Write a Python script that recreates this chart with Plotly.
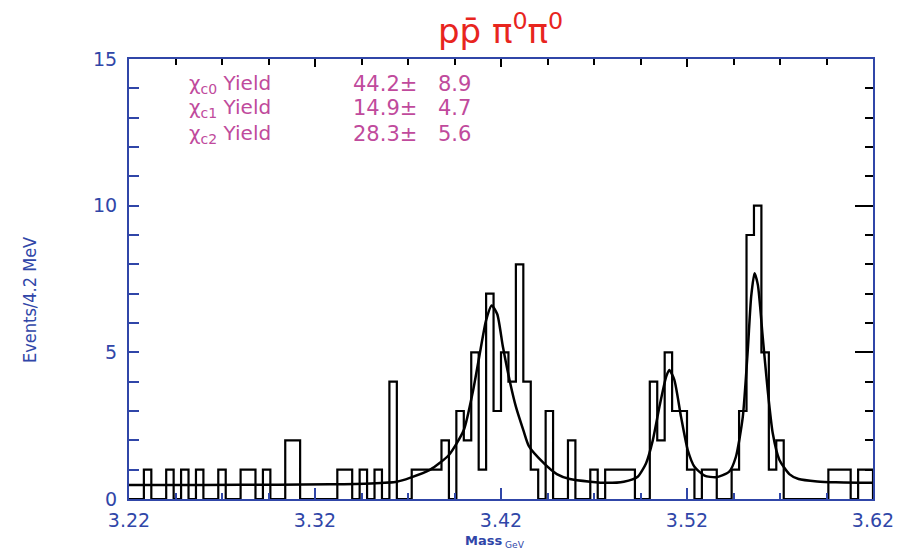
import plotly.graph_objects as go

# ---------------- data ----------------
mass_lo = 3.22
bin_width = 0.004
counts = [
    0, 0, 1, 0, 0, 1, 0, 1, 0, 1,      # 3.220-3.260
    0, 0, 1, 0, 0, 1, 1, 0, 1, 0,      # 3.260-3.300
    0, 2, 2, 0, 0, 0, 0, 0, 1, 1,      # 3.300-3.340
    0, 1, 0, 1, 0, 4, 0, 0, 1, 1,      # 3.340-3.380
    1, 1, 2, 0, 3, 2, 5, 1, 7, 3,      # 3.380-3.420
    5, 4, 8, 4, 1, 0, 3, 0, 0, 2,      # 3.420-3.460
    0, 0, 1, 0, 1, 1, 1, 1, 0, 0,      # 3.460-3.500
    4, 2, 5, 3, 3, 1, 0, 1, 1, 0,      # 3.500-3.540
    0, 1, 3, 9, 10, 5, 1, 2, 0, 0,     # 3.540-3.580
    0, 0, 0, 0, 1, 1, 1, 0, 1, 1,      # 3.580-3.620
]

fit_mass = [3.220, 3.260, 3.300, 3.328, 3.350, 3.364, 3.371, 3.382, 3.392, 3.400,
            3.405, 3.409, 3.412, 3.415, 3.418, 3.421, 3.425, 3.428, 3.432, 3.435,
            3.443, 3.450, 3.457, 3.468, 3.477, 3.486, 3.4935, 3.498, 3.5016, 3.5052,
            3.5088, 3.5105, 3.5132, 3.5168, 3.5204, 3.524, 3.5294, 3.5356, 3.5427, 3.5463,
            3.550, 3.5527, 3.5545, 3.5563, 3.5581, 3.5607, 3.5634, 3.5661, 3.5697, 3.575,
            3.580, 3.590, 3.600, 3.620]
fit_value = [0.48, 0.48, 0.49, 0.50, 0.53, 0.59, 0.72, 1.00, 1.50, 2.35,
             3.70, 5.10, 6.10, 6.60, 6.30, 5.20, 3.94, 3.15, 2.35, 1.80,
             1.22, 0.85, 0.68, 0.59, 0.55, 0.59, 0.76, 1.22, 2.00, 3.15,
             4.17, 4.40, 4.06, 2.80, 1.67, 1.10, 0.80, 0.74, 0.93, 1.44,
             2.80, 5.10, 6.90, 7.70, 7.30, 5.53, 3.70, 2.24, 1.33, 0.85,
             0.68, 0.60, 0.57, 0.55]

yield_names = ["c0", "c1", "c2"]
yield_values = ["44.2", "14.9", "28.3"]
yield_errors = ["8.9", "4.7", "5.6"]

x_ticks = [3.22, 3.32, 3.42, 3.52, 3.62]
y_ticks = [0, 5, 10, 15]

# ---------------- figure ----------------
BLUE = "#3046a8"
RED = "#e8251e"
MAGENTA = "#c04a9c"
FONT = "DejaVu Sans"

edges = [mass_lo + i * bin_width for i in range(len(counts) + 1)]
step_x = [edges[0]] + edges + [edges[-1]]
step_y = [0] + counts + [counts[-1], 0]

fig = go.Figure()
fig.add_trace(go.Scatter(x=step_x, y=step_y, mode="lines", line_shape="hv",
                         line=dict(color="black", width=2.2), hoverinfo="skip",
                         showlegend=False))
fig.add_trace(go.Scatter(x=fit_mass, y=fit_value, mode="lines",
                         line=dict(color="black", width=2.5, shape="spline", smoothing=0.6),
                         showlegend=False))
fig.add_trace(go.Scatter(x=[x_ticks[0]], y=[0], xaxis="x2", yaxis="y2",
                         mode="markers", marker=dict(opacity=0), showlegend=False,
                         hoverinfo="skip"))

x_rng = [x_ticks[0], x_ticks[-1]]
y_rng = [y_ticks[0], y_ticks[-1]]

fig.update_layout(
    width=901, height=549,
    margin=dict(l=129, r=28, t=59, b=50, autoexpand=False),
    paper_bgcolor="white", plot_bgcolor="white",
    font=dict(family=FONT, color=BLUE),
    xaxis=dict(range=x_rng, tickvals=x_ticks, ticktext=[f"{v:.2f}" for v in x_ticks],
               ticks="inside", ticklen=11, tickwidth=2, tickcolor=BLUE,
               minor=dict(dtick=0.025, tick0=3.22, ticks="inside", ticklen=6,
                          tickwidth=2, tickcolor=BLUE),
               showline=True, linecolor=BLUE, linewidth=2, showgrid=False,
               zeroline=False, tickfont=dict(size=19, color=BLUE, family=FONT),
               ticklabelstandoff=3, automargin=False),
    yaxis=dict(range=y_rng, tickvals=y_ticks, ticks="inside", ticklen=10, tickwidth=2,
               tickcolor=BLUE,
               minor=dict(dtick=1, tick0=0, ticks="inside", ticklen=10, tickwidth=2,
                          tickcolor=BLUE),
               showline=True, linecolor=BLUE, linewidth=2, showgrid=False,
               zeroline=False, tickfont=dict(size=19, color=BLUE, family=FONT),
               ticklabelstandoff=6, automargin=False),
    xaxis2=dict(range=x_rng, overlaying="x", side="top", tickvals=x_ticks,
                ticks="inside", ticklen=8, tickwidth=2, tickcolor="black",
                minor=dict(dtick=0.025, tick0=3.22, ticks="inside", ticklen=6,
                           tickwidth=2, tickcolor="black"),
                showticklabels=False, showline=True, linecolor=BLUE, linewidth=2,
                showgrid=False, zeroline=False, automargin=False),
    yaxis2=dict(range=y_rng, overlaying="y", side="right", tickvals=y_ticks,
                ticks="inside", ticklen=18, tickwidth=2, tickcolor="black",
                minor=dict(dtick=1, tick0=0, ticks="inside", ticklen=8, tickwidth=2,
                           tickcolor="black"),
                showticklabels=False, showline=True, linecolor=BLUE, linewidth=2,
                showgrid=False, zeroline=False, automargin=False),
)

def px_x(px):
    return (px - 129) / 744.0

def px_y(py):
    return (499 - py) / 440.0

# title
fig.add_annotation(text="pp\u0304 \u03c0<sup>0</sup>\u03c0<sup>0</sup>", xref="paper", yref="paper",
                   x=px_x(500), y=px_y(29), yanchor="middle", xanchor="center",
                   showarrow=False, font=dict(size=34, color=RED, family=FONT))

# axis titles
fig.add_annotation(text="Events/4.2 MeV", xref="paper", yref="paper",
                   x=px_x(29), y=px_y(300), textangle=-90, xanchor="center", yanchor="middle",
                   showarrow=False,
                   font=dict(size=18, color=BLUE,
                             family="Liberation Sans Narrow, DejaVu Sans Condensed, DejaVu Sans"))
fig.add_annotation(text="<b>Mass</b><sub> GeV</sub>", xref="paper", yref="paper",
                   x=px_x(495), y=px_y(541), xanchor="center", yanchor="middle",
                   showarrow=False, font=dict(size=13, color=BLUE, family=FONT))

# yield labels
row_y = [84, 108, 134]
for name, val, err, py in zip(yield_names, yield_values, yield_errors, row_y):
    yp = px_y(py)
    fig.add_annotation(text=f"\u03c7<sub>{name}</sub> Yield", xref="paper", yref="paper",
                       x=px_x(187), y=yp, xanchor="left", yanchor="middle",
                       showarrow=False, font=dict(size=20, color=MAGENTA, family=FONT))
    fig.add_annotation(text=f"{val}\u00b1", xref="paper", yref="paper",
                       x=px_x(419), y=yp, xanchor="right", yanchor="middle",
                       showarrow=False, font=dict(size=21, color=MAGENTA, family=FONT))
    fig.add_annotation(text=err, xref="paper", yref="paper",
                       x=px_x(473), y=yp, xanchor="right", yanchor="middle",
                       showarrow=False, font=dict(size=21, color=MAGENTA, family=FONT))

fig.write_html("out.html")
